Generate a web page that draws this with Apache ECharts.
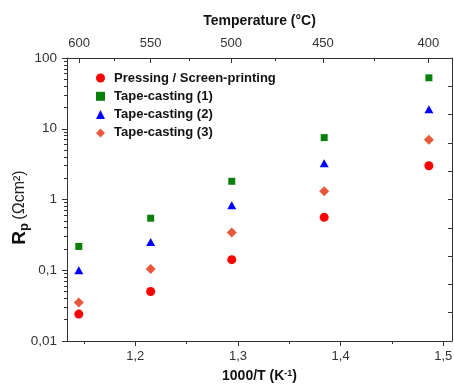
<!DOCTYPE html>
<html>
<head>
<meta charset="utf-8">
<script src="https://cdn.jsdelivr.net/npm/echarts@6/dist/echarts.min.js"></script>
<style>html,body{margin:0;padding:0;background:#fff;}#c{width:454px;height:387px;}</style>
</head>
<body>
<div id="c"></div>
<script>
// ---- data ----
const invT = [1.145, 1.215, 1.294, 1.384, 1.486];           // 1000/T (K^-1)
const tempTicks = [600, 550, 500, 450, 400];                // °C labels on top axis
const tempMinorTicks = [575, 525, 475, 425];
const xTickLabels = [1.2, 1.3, 1.4, 1.5];
const xMinorTicks = [1.15, 1.25, 1.35, 1.45];
const yTickLabels = [0.01, 0.1, 1, 10, 100];
const seriesNames = ['Pressing / Screen-printing', 'Tape-casting (1)', 'Tape-casting (2)', 'Tape-casting (3)'];
const pressing = [0.024, 0.050, 0.141, 0.56, 3.0];
const tape1 = [0.217, 0.544, 1.81, 7.5, 52.5];
const tape2 = [0.100, 0.250, 0.83, 3.25, 18.8];
const tape3 = [0.035, 0.104, 0.342, 1.31, 7.0];

const toInvT = t => 1000 / (t + 273.15);
const yMinor = [];
[0.01, 0.1, 1, 10].forEach(d => { for (let k = 2; k <= 9; k++) yMinor.push(+(d * k).toPrecision(3)); });

const pair = vals => invT.map((x, i) => [x, vals[i]]);
const XMIN = 1.1335, XMAX = 1.5085;
const axisColor = '#333';
const font = 'Liberation Sans, Arial, sans-serif';

const chart = echarts.init(document.getElementById('c'), null, {renderer: 'canvas'});
chart.setOption({
  animation: false,
  backgroundColor: '#fff',
  textStyle: {fontFamily: font},
  grid: {left: 67, right: 2, top: 58, bottom: 46, containLabel: false, outerBoundsMode: 'none'},
  legend: {
    orient: 'vertical', left: 91, top: 66, itemWidth: 9, itemHeight: 9, itemGap: 4.3,
    data: seriesNames,
    textStyle: {fontFamily: font, fontSize: 13, fontWeight: 'bold', color: '#111', lineHeight: 14, padding: [0, 0, 0, 4]}
  },
  xAxis: [
    {
      type: 'value', position: 'bottom', min: XMIN, max: XMAX,
      axisLine: {show: true, lineStyle: {color: axisColor, width: 1}},
      axisTick: {show: true, inside: false, length: 5, customValues: xTickLabels, lineStyle: {color: axisColor}},
      axisLabel: {customValues: xTickLabels, margin: 9, fontSize: 13, color: '#333', fontFamily: font,
        formatter: v => v.toFixed(1).replace('.', ',')},
      splitLine: {show: false},
      name: '1000/T (K{sup|-1})', nameLocation: 'middle', nameGap: 28, nameMoveOverlap: false,
      nameTextStyle: {fontFamily: font, fontSize: 14, fontWeight: 'bold', color: '#111',
        rich: {sup: {fontSize: 9, fontWeight: 'bold', verticalAlign: 'top', padding: [0, 0, 6, 0], fontFamily: font, color: '#111'}}}
    },
    {
      type: 'value', position: 'bottom', min: XMIN, max: XMAX,
      axisLine: {show: false},
      axisTick: {show: true, inside: false, length: 3, customValues: xMinorTicks, lineStyle: {color: axisColor}},
      axisLabel: {show: false}, splitLine: {show: false}
    },
    {
      type: 'value', position: 'top', min: XMIN, max: XMAX,
      axisLine: {show: true, lineStyle: {color: axisColor, width: 1}},
      axisTick: {show: true, inside: true, length: 5, customValues: tempTicks.map(toInvT), lineStyle: {color: axisColor}},
      axisLabel: {customValues: tempTicks.map(toInvT), margin: 8, fontSize: 13, color: '#333', fontFamily: font,
        formatter: v => String(Math.round(1000 / v - 273.15))},
      splitLine: {show: false},
      name: 'Temperature (°C)', nameLocation: 'middle', nameGap: 30, nameMoveOverlap: false,
      nameTextStyle: {fontFamily: font, fontSize: 14, fontWeight: 'bold', color: '#111'}
    },
    {
      type: 'value', position: 'top', min: XMIN, max: XMAX,
      axisLine: {show: false},
      axisTick: {show: true, inside: true, length: 3, customValues: tempMinorTicks.map(toInvT), lineStyle: {color: axisColor}},
      axisLabel: {show: false}, splitLine: {show: false}
    }
  ],
  yAxis: [
    {
      type: 'log', logBase: 10, min: 0.01, max: 100, position: 'left',
      axisLine: {show: true, lineStyle: {color: axisColor, width: 1}},
      axisTick: {show: true, inside: false, length: 5, customValues: yTickLabels, lineStyle: {color: axisColor}},
      axisLabel: {customValues: yTickLabels, margin: 10, fontSize: 13.5, color: '#333', fontFamily: font,
        formatter: v => String(+v.toPrecision(3)).replace('.', ',')},
      splitLine: {show: false},
      name: '{b|R}{s|p} {n|(Ωcm²)}', nameLocation: 'middle', nameGap: 36, nameRotate: 90, nameMoveOverlap: false,
      nameTextStyle: {fontFamily: font, color: '#111', padding: [0, 16, 0, 0],
        rich: {
          b: {fontSize: 19, fontWeight: 'bold', fontFamily: font, color: '#111', lineHeight: 22},
          s: {fontSize: 13, fontWeight: 'bold', fontFamily: font, color: '#111', verticalAlign: 'bottom', lineHeight: 22, padding: [6, 0, 0, 0]},
          n: {fontSize: 16, fontFamily: font, color: '#222', lineHeight: 22}
        }}
    },
    {
      type: 'log', logBase: 10, min: 0.01, max: 100, position: 'left',
      axisLine: {show: false},
      axisTick: {show: true, inside: false, length: 3, customValues: yMinor, lineStyle: {color: axisColor}},
      axisLabel: {show: false}, splitLine: {show: false}
    },
    {
      type: 'value', min: 0, max: 10, interval: 1, position: 'right',
      axisLine: {show: true, lineStyle: {color: axisColor, width: 1}},
      axisTick: {show: true, inside: true, length: 4, lineStyle: {color: axisColor}},
      axisLabel: {show: false}, splitLine: {show: false}
    }
  ],
  series: [
    {name: seriesNames[0], type: 'scatter', data: pair(pressing), symbol: 'circle', symbolSize: 9, itemStyle: {color: '#ff0000', opacity: 1}},
    {name: seriesNames[1], type: 'scatter', data: pair(tape1), symbol: 'rect', symbolSize: 7, itemStyle: {color: '#0a800a', opacity: 1}},
    {name: seriesNames[2], type: 'scatter', data: pair(tape2), symbol: 'triangle', symbolSize: [9, 8], itemStyle: {color: '#0000ff', opacity: 1}},
    {name: seriesNames[3], type: 'scatter', data: pair(tape3), symbol: 'diamond', symbolSize: 10, itemStyle: {color: '#e8583a', opacity: 1}}
  ]
});
</script>
</body>
</html>
